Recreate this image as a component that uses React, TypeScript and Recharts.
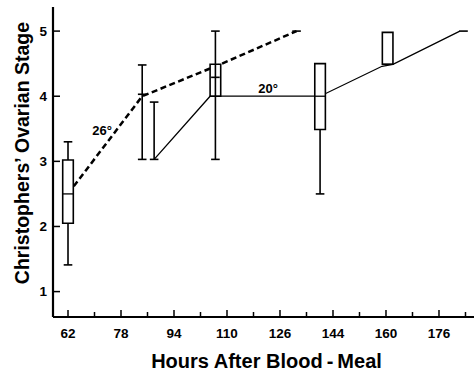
import {
  ComposedChart,
  Line,
  XAxis,
  YAxis,
  ReferenceArea,
  ReferenceLine,
  ReferenceDot,
} from 'recharts';

const FONT = '"Liberation Sans", Arial, Helvetica, sans-serif';

// axis ticks (minor ticks carry an empty label)
const hourTicks = [62, 70, 78, 86, 94, 102, 110, 118, 126, 134, 142, 150, 158, 166, 174, 182];
const hourLabels = ['62', '', '78', '', '94', '', '110', '', '126', '', '144', '', '160', '', '176', ''];
const stageTicks = [1, 2, 3, 4, 5];

// 26° series (dashed) and 20° series (solid)
const hours26 = [62, 84.4, 108, 131];
const stage26 = [2.5, 4.0, 4.49, 5.0];
const hours20 = [88, 104.9, 138.1, 156.8, 160.1, 180.3];
const stage20 = [3.03, 4.0, 4.0, 4.46, 4.49, 5.0];

// boxes
const boxHours = [62, 106.5, 138.1, 158.5];
const boxQ1 = [2.05, 4.0, 3.49, 4.49];
const boxMedian = [2.5, 4.0, 4.0, 4.49];
const boxQ3 = [3.02, 4.49, 4.5, 4.98];

// whisker lines
const whiskerHours = [62, 62, 84.4, 88, 106.5, 138.1];
const whiskerLow = [1.41, 3.02, 3.03, 3.03, 3.03, 2.5];
const whiskerHigh = [2.05, 3.3, 4.48, 3.91, 5.0, 3.49];

// whisker caps
const capHours = [62, 62, 84.4, 84.4, 84.4, 88, 88, 106.5, 106.5, 106.5, 138.1, 131, 181.4];
const capStage = [1.41, 3.3, 3.03, 4.03, 4.48, 3.03, 3.91, 3.03, 4.29, 5.0, 2.5, 5.0, 5.0];

// temperature labels
const tempLabels = ['26°', '20°'];
const tempHours = [72.3, 122.4];
const tempStage = [3.48, 4.12];

const line26 = hours26.map((h, i) => ({ h, v: stage26[i] }));
const line20 = hours20.map((h, i) => ({ h, v: stage20[i] }));

const BOX_W = 3.2;
const CAP_W = 2.6;

const XTick = (props: any) => {
  const { x, y, payload } = props;
  const label = hourLabels[hourTicks.indexOf(payload.value)] || '';
  const major = label !== '';
  return (
    <g>
      <line x1={x} y1={y} x2={x} y2={y - (major ? 7 : 5)} stroke="#000" strokeWidth={1.5} />
      {major && (
        <text x={x} y={y + 21} textAnchor="middle" fontSize={13.5} fontWeight="bold" fontFamily={FONT} fill="#000">
          {label}
        </text>
      )}
    </g>
  );
};

const YTick = (props: any) => {
  const { x, y, payload } = props;
  return (
    <g>
      <line x1={x} y1={y} x2={x + 7} y2={y} stroke="#000" strokeWidth={1.5} />
      <text x={x - 6} y={y} dy="0.35em" textAnchor="end" fontSize={13.5} fontWeight="bold" fontFamily={FONT} fill="#000">
        {payload.value}
      </text>
    </g>
  );
};

const App = () => {
  return (
    <div style={{ position: 'absolute', left: 0, top: 0, background: '#fff' }}>
      <ComposedChart width={474} height={375} margin={{ top: 7, right: 0, bottom: 0, left: 0 }}>
        <XAxis
          type="number"
          dataKey="h"
          domain={[57.47, 184.57]}
          ticks={hourTicks}
          interval={0}
          allowDataOverflow
          tickLine={false}
          tickSize={0}
          tickMargin={0}
          tick={<XTick />}
          height={58}
          axisLine={{ stroke: '#000', strokeWidth: 1.8 }}
          label={{
            content: ({ viewBox }: any) => (
              <text
                x={viewBox.x + viewBox.width / 2 + 3}
                y={viewBox.y + 51}
                textAnchor="middle"
                fontSize={20}
                fontWeight="bold"
                fontFamily={FONT}
                fill="#000"
              >
                Hours After Blood{'\u2009'}-{'\u2009'}Meal
              </text>
            ),
          }}
        />
        <YAxis
          type="number"
          domain={[0.61, 5.37]}
          ticks={stageTicks}
          interval={0}
          allowDataOverflow
          tickLine={false}
          tickSize={0}
          tickMargin={0}
          tick={<YTick />}
          width={53}
          axisLine={{ stroke: '#000', strokeWidth: 2.2 }}
          label={{
            content: ({ viewBox }: any) => {
              const cx = viewBox.x + 22;
              const cy = viewBox.y + viewBox.height / 2 - 9;
              return (
                <text
                  x={cx}
                  y={cy}
                  transform={`rotate(-90, ${cx}, ${cy})`}
                  textAnchor="middle"
                  dominantBaseline="central"
                  fontSize={19.5}
                  fontWeight="bold"
                  fontFamily={FONT}
                  fill="#000"
                >
                  Christophers’ Ovarian Stage
                </text>
              );
            },
          }}
        />
        <Line
          data={line26}
          dataKey="v"
          stroke="#000"
          strokeWidth={2.5}
          strokeDasharray="6 3.5"
          dot={false}
          activeDot={false}
          isAnimationActive={false}
        />
        <Line
          data={line20}
          dataKey="v"
          stroke="#000"
          strokeWidth={1.3}
          dot={false}
          activeDot={false}
          isAnimationActive={false}
        />
        {boxHours.map((h, i) => (
          <ReferenceArea
            key={`box-${i}`}
            x1={h - BOX_W / 2}
            x2={h + BOX_W / 2}
            y1={boxQ1[i]}
            y2={boxQ3[i]}
            fill="#fff"
            fillOpacity={1}
            stroke="#000"
            strokeWidth={1.6}
            zIndex={450}
          />
        ))}
        {boxHours.map((h, i) => (
          <ReferenceLine
            key={`med-${i}`}
            segment={[
              { x: h - BOX_W / 2, y: boxMedian[i] },
              { x: h + BOX_W / 2, y: boxMedian[i] },
            ]}
            stroke="#000"
            strokeWidth={1.3}
            zIndex={460}
          />
        ))}
        {whiskerHours.map((h, i) => (
          <ReferenceLine
            key={`wh-${i}`}
            segment={[
              { x: h, y: whiskerLow[i] },
              { x: h, y: whiskerHigh[i] },
            ]}
            stroke="#000"
            strokeWidth={1.6}
            zIndex={460}
          />
        ))}
        {capHours.map((h, i) => (
          <ReferenceLine
            key={`cap-${i}`}
            segment={[
              { x: h - CAP_W / 2, y: capStage[i] },
              { x: h + CAP_W / 2, y: capStage[i] },
            ]}
            stroke="#000"
            strokeWidth={1.6}
            zIndex={460}
          />
        ))}
        {tempLabels.map((t, i) => (
          <ReferenceDot
            key={`lab-${i}`}
            x={tempHours[i]}
            y={tempStage[i]}
            r={0.5}
            fill="none"
            stroke="none"
            label={{ value: t, position: 'center', fontSize: 13, fontWeight: 'bold', fontFamily: FONT, fill: '#000' }}
          />
        ))}
      </ComposedChart>
    </div>
  );
};

export default App;
